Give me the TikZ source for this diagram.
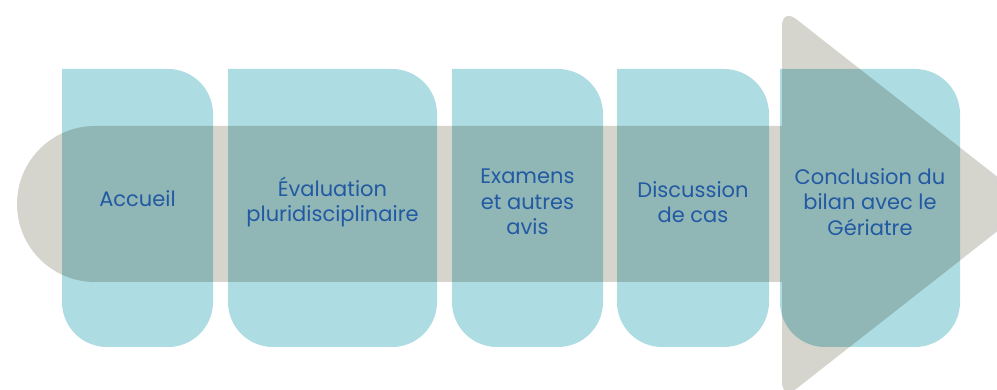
\documentclass[tikz,border=0pt]{standalone}
\usepackage{fontspec}
\setmainfont{Poppins}
\definecolor{grisfond}{HTML}{D5D5CE}
\definecolor{bleuclair}{HTML}{ADDCE2}
\definecolor{bleutexte}{HTML}{2259A3}
\newcommand{\etape}[2]{\fill[etape] (#1,321) -- (#2-45,321) arc (90:0:45) -- (#2,88) arc (0:-90:45) -- (#1+45,43) arc (270:180:45) -- cycle;}
\begin{document}
\begin{tikzpicture}[line cap=round,line join=round,x=1pt,y=1pt,
  etape/.style={fill=bleuclair,blend mode=multiply},
  texte/.style={text=bleutexte,align=center,font=\fontsize{21}{25.5}\selectfont}]
\useasboundingbox (0,0) rectangle (997,390);

\fill [grisfond] (95,264) -- (782.5,264) -- (782.5,108) -- (95,108) arc (270:90:78) -- cycle
  [rounded corners=18] (782,382) -- (1032,186) -- (782,-10) -- cycle;

\etape{62}{213}
\etape{228}{437}
\etape{452}{603}
\etape{617}{769}
\etape{780}{960}

\node[texte] (accueil) at (137.5,191) {Accueil};
\node[texte] (evaluation) at (332.5,188) {Évaluation\\pluridisciplinaire};
\node[texte] (examens) at (527.5,188) {Examens\\et autres\\avis};
\node[texte] (discussion) at (693,188) {Discussion\\de cas};
\node[texte] (conclusion) at (870,188) {Conclusion du\\bilan avec le\\Gériatre};

\end{tikzpicture}
\end{document}
